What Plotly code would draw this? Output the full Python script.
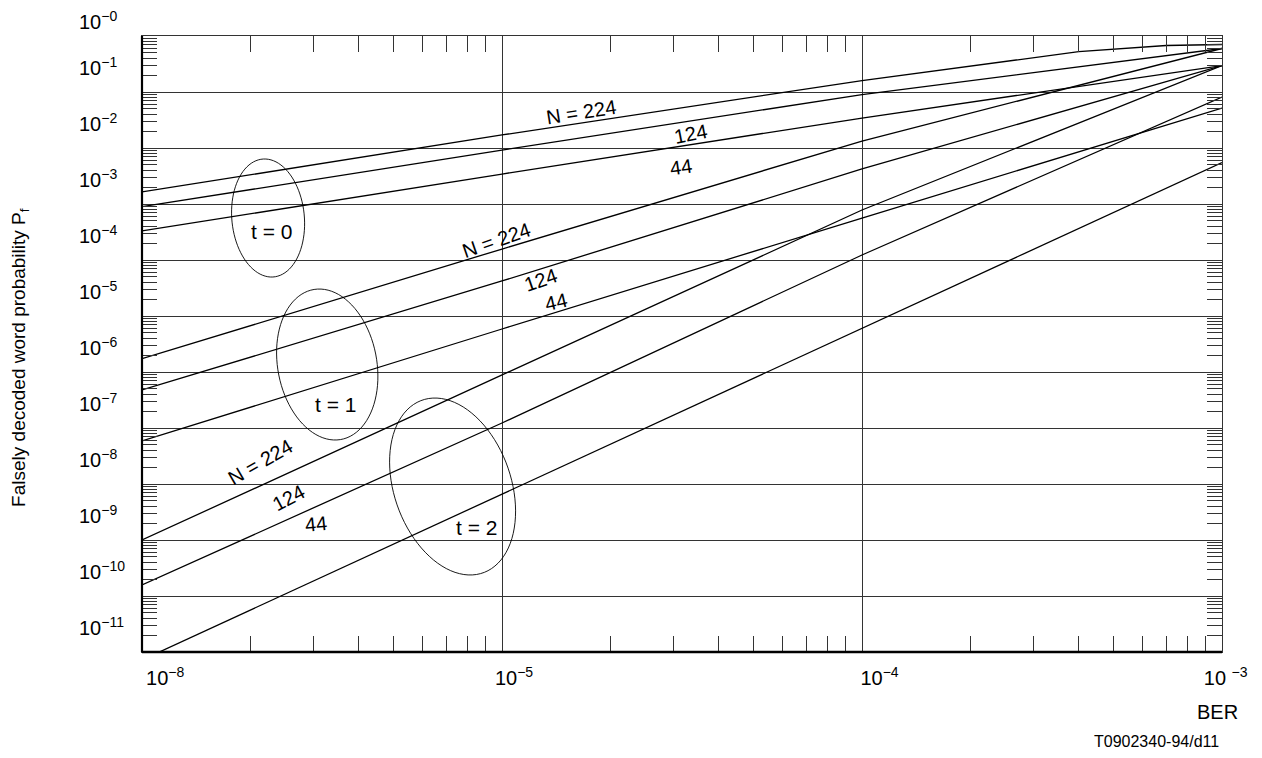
import math
import plotly.graph_objects as go

# ---------------- data ----------------
BER_POINTS = [1e-6, 1e-5, 1e-4, 1e-3]
BER_T0_N224 = [1e-6, 1e-5, 1e-4, 2.5e-4, 4e-4, 7e-4, 1e-3]

PF_T0_N224 = [1.64e-3, 1.71e-2, 1.60e-1, 3.58e-1, 5.25e-1, 6.76e-1, 7.05e-1]
PF_T0_N124 = [8.95e-4, 9.2e-3, 9.0e-2, 5.98e-1]
PF_T0_N44 = [3.30e-4, 3.43e-3, 3.43e-2, 2.97e-1]
PF_T1_N224 = [1.73e-6, 1.57e-4, 1.33e-2, 5.98e-1]
PF_T1_N124 = [4.77e-7, 4.22e-5, 4.22e-3, 2.97e-1]
PF_T1_N44 = [5.86e-8, 5.86e-6, 5.62e-4, 5.18e-2]
PF_T2_N224 = [1.0e-9, 8.84e-7, 7.81e-4, 2.97e-1]
PF_T2_N124 = [1.57e-10, 1.23e-7, 1.23e-4, 8.14e-2]
PF_T2_N44 = [7.2e-12, 6.63e-9, 6.1e-6, 5.51e-3]

# axis ticks / labels (non-breaking spaces nudge the labels as in the reference)
NB = "\u00a0"
X_TICK_VALS = [1e-6, 1e-5, 1e-4, 1e-3]
X_TICK_TEXT = [NB * 4 + "10<sup>−8</sup>", "10<sup>−5</sup>",
               NB * 2 + "10<sup>−4</sup>", "10" + NB + "<sup>−3</sup>" + NB * 3]
X_MINOR = [k * 10.0 ** e for e in (-6, -5, -4) for k in range(2, 10)]
Y_DECADES = [10.0 ** -e for e in range(1, 11)]
Y_MINOR = [k * 10.0 ** -e for e in range(1, 12) for k in range(2, 10)]
Y_LABEL_EXPONENTS = list(range(0, 12))

# curve labels: (text, BER, Pf, angle, font size)
CURVE_LABELS = [
    ("t = 0", 2.29e-6, 3.23e-4, 0, 21),
    ("t = 1", 3.44e-6, 2.58e-7, 0, 21),
    ("t = 2", 8.47e-6, 1.64e-9, 0, 21),
    ("N = 224", 1.667e-5, 4.40e-2, -9, 20),
    ("124", 3.33e-5, 1.78e-2, -11, 20),
    ("44", 3.14e-5, 4.58e-3, -8, 20),
    ("N = 224", 9.68e-6, 2.28e-4, -19, 20),
    ("124", 1.28e-5, 4.40e-5, -19, 20),
    ("44", 1.41e-5, 1.78e-5, -13, 20),
    ("N = 224", 2.13e-6, 2.47e-8, -30, 20),
    ("124", 2.55e-6, 5.62e-9, -28, 20),
    ("44", 3.04e-6, 1.93e-9, -6, 20),
]

# ellipses around each group: centre BER, centre Pf, half width (x decades),
# half height (y decades), shear (x decades)
ELLIPSES = [
    (2.24e-6, 5.62e-4, 0.101, 1.054, -0.0097),
    (3.27e-6, 1.36e-6, 0.139, 1.348, -0.022),
    (7.29e-6, 9.02e-9, 0.168, 1.580, -0.049),
]

LINE_COLOR = "black"
FONT = "Liberation Sans, Arial, Helvetica, sans-serif"

fig = go.Figure()

series = [
    (BER_T0_N224, PF_T0_N224),
    (BER_POINTS, PF_T0_N124),
    (BER_POINTS, PF_T0_N44),
    (BER_POINTS, PF_T1_N224),
    (BER_POINTS, PF_T1_N124),
    (BER_POINTS, PF_T1_N44),
    (BER_POINTS, PF_T2_N224),
    (BER_POINTS, PF_T2_N124),
    (BER_POINTS, PF_T2_N44),
]
for xs, ys in series:
    fig.add_trace(go.Scatter(x=xs, y=ys, mode="lines",
                             line=dict(color=LINE_COLOR, width=1.3),
                             hoverinfo="skip", showlegend=False))

shapes = []
for cx, cy, a, b, k in ELLIPSES:
    lx, ly = math.log10(cx), math.log10(cy)
    pts = []
    n = 90
    for i in range(n):
        t = 2 * math.pi * i / n
        x = 10 ** (lx + a * math.cos(t) + k * math.sin(t))
        y = 10 ** (ly + b * math.sin(t))
        pts.append(f"{x:.6e},{y:.6e}")
    path = "M " + " L ".join(pts) + " Z"
    shapes.append(dict(type="path", xref="x", yref="y", path=path,
                       line=dict(color="black", width=0.9)))

# thick left and bottom axis lines
shapes.append(dict(type="line", xref="paper", yref="paper", x0=0, x1=0, y0=0, y1=1,
                   line=dict(color="black", width=2.2), layer="above"))
shapes.append(dict(type="line", xref="paper", yref="paper", x0=0, x1=1, y0=0, y1=0,
                   line=dict(color="black", width=2.6), layer="above"))

annotations = []
for text, bx, py, ang, fs in CURVE_LABELS:
    annotations.append(dict(x=math.log10(bx), y=math.log10(py), xref="x", yref="y",
                            text=text, showarrow=False, textangle=ang,
                            xanchor="center", yanchor="middle",
                            font=dict(size=fs, family=FONT, color="black")))

# y tick labels (left aligned, between grid lines as in the reference)
for e in Y_LABEL_EXPONENTS:
    if e == 0:
        annotations.append(dict(x=-0.0602, xref="paper", xanchor="left",
                                y=1.0252, yref="paper", yanchor="middle",
                                text=f"10<sup>−{e}</sup>", showarrow=False,
                                font=dict(size=20, family=FONT, color="black")))
    else:
        annotations.append(dict(x=-0.0602, xref="paper", xanchor="left",
                                y=-(e - 0.5) - 0.045, yref="y", yanchor="middle",
                                text=f"10<sup>−{e}</sup>", showarrow=False,
                                font=dict(size=20, family=FONT, color="black")))

annotations.append(dict(x=-0.113, y=0.479, xref="paper", yref="paper",
                        xanchor="center", yanchor="middle",
                        text="Falsely decoded word probability P<sub>f</sub>",
                        textangle=-90, showarrow=False,
                        font=dict(size=19, family=FONT, color="black")))
annotations.append(dict(x=0.9954, y=-0.0974, xref="paper", yref="paper",
                        xanchor="center", yanchor="middle",
                        text="BER", showarrow=False,
                        font=dict(size=20, family=FONT, color="black")))
annotations.append(dict(x=0.999, y=-0.1445, xref="paper", yref="paper",
                        xanchor="right", yanchor="middle",
                        text="T0902340-94/d11", showarrow=False,
                        font=dict(size=16, family=FONT, color="black")))

# the page body has an 8 px margin, so the figure is shrunk by 8 px and the
# left/top margins reduced so that the plot area lands where the reference has it
fig.update_layout(
    width=1254, height=750,
    margin=dict(l=134, r=40, t=28, b=106, autoexpand=False),
    plot_bgcolor="white", paper_bgcolor="white",
    showlegend=False,
    font=dict(family=FONT, size=20, color="black"),
    shapes=shapes, annotations=annotations,
    xaxis=dict(type="log", range=[-6, -3], tickmode="array", automargin=False,
               tickvals=X_TICK_VALS, ticktext=X_TICK_TEXT, ticks="",
               ticklabeloverflow="allow",
               showgrid=True, gridcolor="#333", gridwidth=1,
               showline=True, linecolor="#333", linewidth=1, mirror="allticks",
               zeroline=False, tickfont=dict(size=20, family=FONT, color="black"),
               ticklabelshift=12, ticklabelstandoff=8,
               minor=dict(tickmode="array", tickvals=X_MINOR, ticks="inside",
                          ticklen=16, tickwidth=1, tickcolor="#333", showgrid=False)),
    yaxis=dict(type="log", range=[-11, 0], tickmode="array", automargin=False,
               tickvals=Y_DECADES, ticks="", showticklabels=False,
               showgrid=True, gridcolor="#333", gridwidth=1,
               showline=True, linecolor="#333", linewidth=1, mirror="allticks",
               zeroline=False,
               minor=dict(tickmode="array", tickvals=Y_MINOR, ticks="inside",
                          ticklen=15, tickwidth=1, tickcolor="#333", showgrid=False)),
)

fig.write_html("out.html")
